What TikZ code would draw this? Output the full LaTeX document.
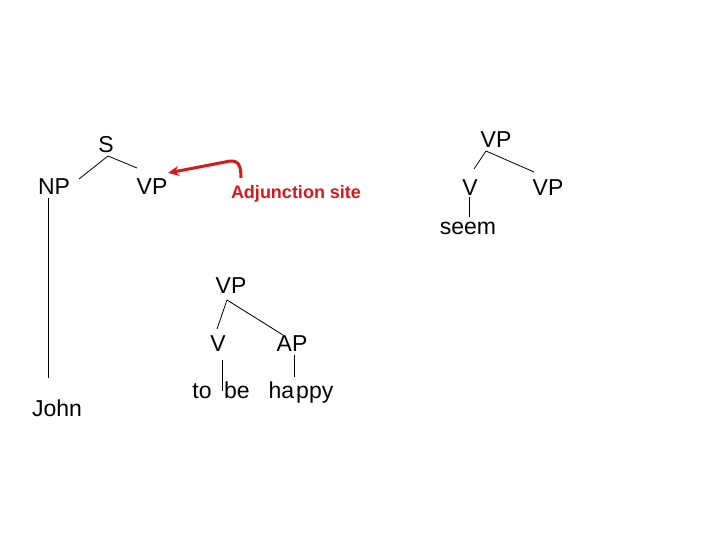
\documentclass[tikz,border=0pt]{standalone}
\usepackage{fontspec}
\setmainfont{Liberation Sans}
\usetikzlibrary{calc,arrows.meta}
\definecolor{adjred}{RGB}{215,25,25}
\begin{document}
\begin{tikzpicture}[x=1pt,y=-1pt,
  lbl/.style={anchor=base,inner sep=0pt,font=\fontsize{23}{27}\selectfont},
  adj/.style={anchor=base,inner sep=0pt,font=\fontsize{18}{22}\selectfont\bfseries,text=adjred},
  br/.style={line width=0.8pt,black},
  redarrow/.style={line width=3pt,adjred,-{Stealth[length=11pt,width=10pt]}}]
\useasboundingbox (0,0) rectangle (720,540);
% left tree
\node[lbl] (S) at (106,153) {S};
\node[lbl] (NP) at (54,195) {NP};
\node[lbl] (VPa) at (152,195) {VP};
\node[lbl] (John) at (57,416) {John};
\node[adj] (adj) at (296,199) {Adjunction site};
% right tree
\node[lbl] (VPt) at (496,148) {VP};
\node[lbl] (Vt) at (470,196) {V};
\node[lbl] (VPr) at (548,196) {VP};
\node[lbl] (seem) at (468,234) {seem};
% middle tree
\node[lbl] (VPm) at (231,293) {VP};
\node[lbl] (Vm) at (218,351) {V};
\node[lbl] (AP) at (292,351) {AP};
\node[lbl] (to) at (202,398) {to};
\node[lbl] (be) at (237,398) {be};
\node[lbl] (happy) at (301,398) {ha\kern2pt ppy};
% branches
\draw[br] ($(S.base)+(2,3)$) -- ($(NP.base)+(25,-16)$);
\draw[br] ($(S.base)+(2,3)$) -- ($(VPa.base)+(-15,-27)$);
\draw[br] ($(NP.base)+(-6,3)$) -- ($(John.base)+(-9,-38)$);
\draw[br] ($(VPt.base)+(-10,3)$) -- ($(Vt.base)+(4,-27)$);
\draw[br] ($(VPt.base)+(-10,3)$) -- ($(VPr.base)+(-14,-24)$);
\draw[br] ($(Vt.base)+(-1,1)$) -- ($(seem.base)+(1,-17)$);
\draw[br] ($(VPm.base)+(-4,7)$) -- ($(Vm.base)+(-1,-22)$);
\draw[br] ($(VPm.base)+(-4,7)$) -- ($(AP.base)+(-9,-16)$);
\draw[br] ($(Vm.base)+(4,9)$) -- ($(be.base)+(-15,-7)$);
\draw[br] ($(AP.base)+(2,4)$) -- ($(happy.base)+(-7,-21)$);
% adjunction arrow
\draw[redarrow] ($(adj.base)+(-55,-21)$) .. controls +(0,-12) and +(14,-4) .. ($(adj.base)+(-71,-37)$) -- ($(VPa.base)+(16,-22)$);
\end{tikzpicture}
\end{document}
